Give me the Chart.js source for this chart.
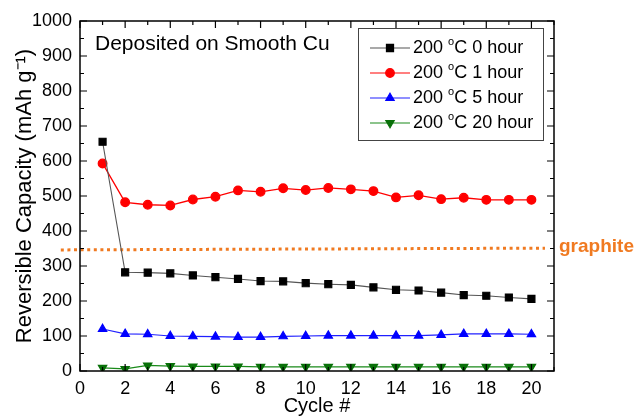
<!DOCTYPE html>
<html>
<head>
<meta charset="utf-8">
<script src="https://cdn.jsdelivr.net/npm/chart.js@4.4.1/dist/chart.umd.min.js"></script>
<style>
  html, body { margin: 0; padding: 0; background: #fff; }
</style>
</head>
<body>
<canvas id="capChart" width="643" height="418"></canvas>
<script>
/* ---------- data ---------- */
const cycles = [1, 2, 3, 4, 5, 6, 7, 8, 9, 10, 11, 12, 13, 14, 15, 16, 17, 18, 19, 20];
const hour0 = [655, 282, 281, 279, 273, 268, 263, 257, 256, 251, 248, 246, 239, 232, 230, 224, 217, 215, 210, 206];
const hour1 = [593, 482, 475, 473, 490, 498, 516, 512, 522, 517, 523, 519, 514, 496, 502, 491, 495, 489, 489, 489];
const hour5 = [120, 106, 105, 100, 99, 98, 97, 97, 99, 100, 101, 101, 101, 101, 101, 103, 106, 106, 106, 105];
const hour20 = [9, 6, 16, 14, 13, 13, 13, 12, 12, 12, 12, 12, 12, 12, 12, 12, 12, 12, 12, 12];
const graphiteX = [-0.85, 20.6];
const graphiteY = [346, 351];
const xTicks = [0, 2, 4, 6, 8, 10, 12, 14, 16, 18, 20];
const yTicks = [0, 100, 200, 300, 400, 500, 600, 700, 800, 900, 1000];
const legendLabels = ["200 °C 0 hour", "200 °C 1 hour", "200 °C 5 hour", "200 °C 20 hour"];
const titleText = "Deposited on Smooth Cu";
const graphiteText = "graphite";

const FONT = "'Liberation Sans', Arial, Helvetica, sans-serif";
Chart.defaults.font.family = FONT;
Chart.defaults.color = "#000";

const pts = arr => cycles.map((c, i) => ({ x: c, y: arr[i] }));

/* ---------- plugin: frame, inward ticks, text, legend ---------- */
const decor = {
  id: "decor",
  afterDraw(chart) {
    const { ctx, chartArea: a, scales } = chart;
    const xs = scales.x, ys = scales.y;
    ctx.save();

    // box
    ctx.strokeStyle = "#000";
    ctx.lineWidth = 1.5;
    ctx.strokeRect(a.left, a.top, a.right - a.left, a.bottom - a.top);

    // inward ticks
    ctx.lineWidth = 1.2;
    ctx.beginPath();
    for (let v = 0; v <= 21; v++) {
      const len = v % 2 === 0 ? 7 : 4;
      const px = xs.getPixelForValue(v);
      ctx.moveTo(px, a.bottom); ctx.lineTo(px, a.bottom - len);
      ctx.moveTo(px, a.top); ctx.lineTo(px, a.top + len);
    }
    for (let v = 0; v <= 1000; v += 50) {
      const len = v % 100 === 0 ? 7 : 4;
      const py = ys.getPixelForValue(v);
      ctx.moveTo(a.left, py); ctx.lineTo(a.left + len, py);
      ctx.moveTo(a.right, py); ctx.lineTo(a.right - len, py);
    }
    ctx.stroke();

    // title inside plot
    ctx.fillStyle = "#000";
    ctx.font = "21px " + FONT;
    ctx.textAlign = "left";
    ctx.textBaseline = "middle";
    ctx.fillText(titleText, 95, 44);

    // graphite label
    ctx.fillStyle = "#f07a21";
    ctx.font = "bold 19px " + FONT;
    ctx.fillText(graphiteText, a.right + 5, ys.getPixelForValue(graphiteY[1]) - 1);

    // legend
    const lx = 358, ly = 28, lw = 185, lh = 112;
    ctx.fillStyle = "#fff";
    ctx.fillRect(lx, ly, lw, lh);
    ctx.strokeStyle = "#444";
    ctx.lineWidth = 1;
    ctx.strokeRect(lx + 0.5, ly + 0.5, lw, lh);
    legendLabels.forEach((label, i) => {
      const ds = chart.data.datasets[i];
      const y = 48 + i * 25;
      ctx.strokeStyle = ds.borderColor;
      ctx.lineWidth = 1.2;
      ctx.beginPath();
      ctx.moveTo(370, y); ctx.lineTo(410, y);
      ctx.stroke();
      ctx.fillStyle = ds.pointBackgroundColor;
      ctx.strokeStyle = ds.pointBorderColor;
      Chart.helpers.drawPoint(ctx, {
        pointStyle: ds.pointStyle, radius: ds.pointRadius,
        rotation: ds.pointRotation || 0, borderWidth: 1
      }, 390, y);
      // text with superscript "o" for the degree sign
      const [pre, post] = label.split("°");
      ctx.fillStyle = "#000";
      ctx.font = "18px " + FONT;
      let tx = 413;
      ctx.fillText(pre, tx, y);
      tx += ctx.measureText(pre).width;
      ctx.font = "11px " + FONT;
      ctx.fillText("o", tx, y - 6);
      tx += ctx.measureText("o").width;
      ctx.font = "18px " + FONT;
      ctx.fillText(post, tx, y);
    });
    ctx.restore();
  }
};

/* ---------- chart ---------- */
new Chart(document.getElementById("capChart"), {
  type: "line",
  data: {
    datasets: [
      {
        label: legendLabels[0], data: pts(hour0),
        borderColor: "#555", borderWidth: 1.1,
        pointStyle: "rect", pointRadius: 5, pointBackgroundColor: "#000", pointBorderColor: "#000",
      },
      {
        label: legendLabels[1], data: pts(hour1),
        borderColor: "#f00", borderWidth: 1.3,
        pointStyle: "circle", pointRadius: 4.3, pointBackgroundColor: "#f00", pointBorderColor: "#f00",
      },
      {
        label: legendLabels[2], data: pts(hour5),
        borderColor: "#2020ff", borderWidth: 1.2,
        pointStyle: "triangle", pointRadius: 4.8, pointBackgroundColor: "#00f", pointBorderColor: "#00f",
      },
      {
        label: legendLabels[3], data: pts(hour20),
        borderColor: "#1a8a1a", borderWidth: 1.2,
        pointStyle: "triangle", pointRotation: 180, pointRadius: 4.8,
        pointBackgroundColor: "#087008", pointBorderColor: "#087008",
      },
      {
        label: "graphite",
        data: graphiteX.map((x, i) => ({ x, y: graphiteY[i] })),
        borderColor: "#f07a21", borderWidth: 3, borderDash: [3, 3.6],
        pointRadius: 0, clip: false,
      },
    ],
  },
  options: {
    responsive: false,
    animation: false,
    layout: { padding: { top: 21, right: 89, left: 0, bottom: 0 } },
    plugins: { legend: { display: false }, tooltip: { enabled: false } },
    elements: { line: { tension: 0 } },
    scales: {
      x: {
        type: "linear", min: 0, max: 21,
        afterBuildTicks: s => { s.ticks = xTicks.map(v => ({ value: v })); },
        afterFit: s => { s.height = 47; },
        grid: { display: false, drawTicks: false },
        border: { display: false },
        ticks: { padding: 7, font: { size: 18 }, color: "#000", callback: v => String(v) },
        title: { display: true, text: "Cycle #", font: { size: 20 }, color: "#000", padding: { top: 0, bottom: 0 } },
      },
      y: {
        type: "linear", min: 0, max: 1000,
        afterBuildTicks: s => { s.ticks = yTicks.map(v => ({ value: v })); },
        afterFit: s => { s.width = 80; },
        grid: { display: false, drawTicks: false },
        border: { display: false },
        ticks: { padding: 8, font: { size: 18 }, color: "#000", callback: v => String(v) },
        title: { display: true, text: "Reversible Capacity (mAh g⁻¹)", font: { size: 22 }, color: "#000", padding: { top: 12, bottom: 0 } },
      },
    },
  },
  plugins: [decor],
});
</script>
</body>
</html>
